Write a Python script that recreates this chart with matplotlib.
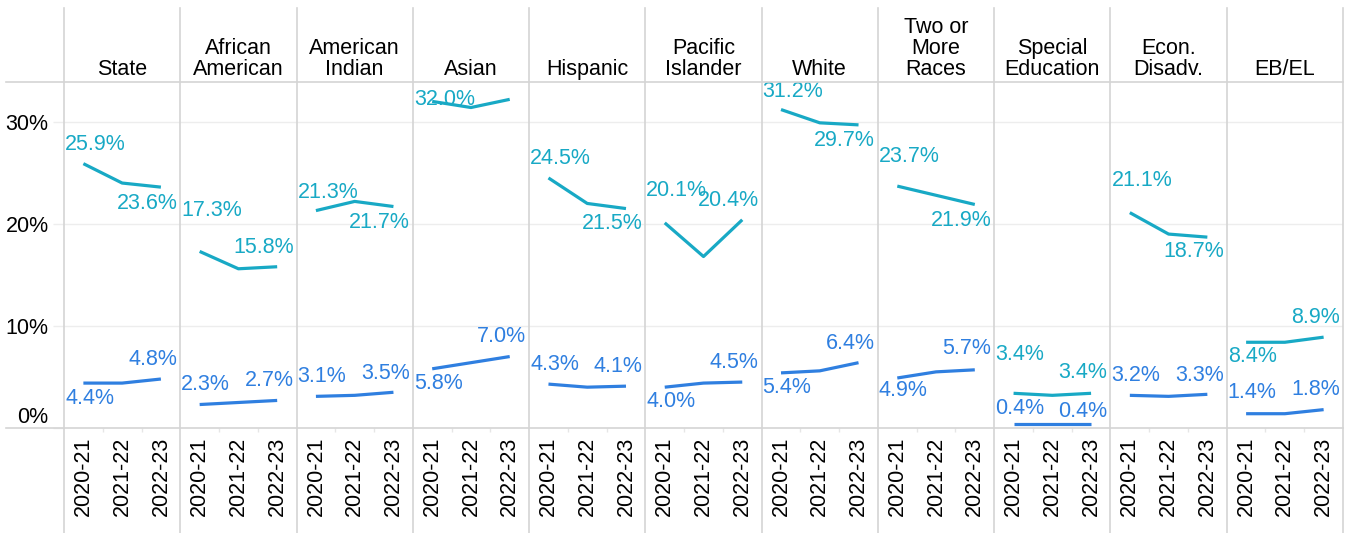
import matplotlib.pyplot as plt
from matplotlib.lines import Line2D

plt.rcParams['font.family'] = ['Liberation Sans', 'DejaVu Sans']

groups = ['State', 'African\nAmerican', 'American\nIndian', 'Asian', 'Hispanic',
          'Pacific\nIslander', 'White', 'Two or\nMore\nRaces', 'Special\nEducation',
          'Econ.\nDisadv.', 'EB/EL']
years = ['2020-21', '2021-22', '2022-23']

# percent values per group, one list per school year
teal_rate = [
    [25.9, 24.0, 23.6],
    [17.3, 15.6, 15.8],
    [21.3, 22.2, 21.7],
    [32.0, 31.4, 32.2],
    [24.5, 22.0, 21.5],
    [20.1, 16.8, 20.4],
    [31.2, 29.9, 29.7],
    [23.7, 22.8, 21.9],
    [3.4, 3.2, 3.4],
    [21.1, 19.0, 18.7],
    [8.4, 8.4, 8.9],
]
blue_rate = [
    [4.4, 4.4, 4.8],
    [2.3, 2.5, 2.7],
    [3.1, 3.2, 3.5],
    [5.8, 6.4, 7.0],
    [4.3, 4.0, 4.1],
    [4.0, 4.4, 4.5],
    [5.4, 5.6, 6.4],
    [4.9, 5.5, 5.7],
    [0.4, 0.4, 0.4],
    [3.2, 3.1, 3.3],
    [1.4, 1.4, 1.8],
]

# label nudges in pixels (positive = above the point) for first / last point
teal_dy = [(19, -16), (41, 19), (18, -16), (2, None), (19, -15), (32, 19),
           (18, -16), (30, -16), (39, 21), (32, -14), (-14, 20)]
blue_dy = [(-15, 20), (20, 20), (20, 19), (-15, 20), (20, 20), (-14, 20),
           (-15, 19), (-13, 21), (15, 12), (20, 19), (21, 20)]

TEAL = '#18a9c5'
BLUE = '#2f7fe0'
SEP = '#d4d4d4'
GRID = '#ededed'
FS = 15.5

W, H = 1348, 533
left_px, right_px = 64, 1343
top_px, base_px = 82, 428

fig = plt.figure(figsize=(W / 100, H / 100), dpi=100)
axes = fig.subplots(1, len(groups), gridspec_kw=dict(
    left=left_px / W, right=right_px / W, bottom=1 - base_px / H, top=1 - top_px / H, wspace=0))

labels = []
x = list(range(len(years)))
for i, ax in enumerate(axes):
    ax.set_xlim(-0.5, 2.5)
    ax.set_ylim(0, 33.9)
    for s in ax.spines.values():
        s.set_visible(False)
    for g in (10, 20, 30):
        ax.axhline(g, color=GRID, lw=1, zorder=0)

    for vals, dys, col in ((teal_rate[i], teal_dy[i], TEAL), (blue_rate[i], blue_dy[i], BLUE)):
        ax.plot(x, vals, color=col, lw=2.3, solid_capstyle='butt', zorder=3)
        for k, dy in zip((0, 2), dys):
            if dy is None:
                continue
            t = ax.annotate(f'{vals[k]:.1f}%', (x[k], vals[k]), xytext=(0, dy),
                            textcoords='offset pixels', ha='center', va='center',
                            color=col, fontsize=FS, zorder=4)
            labels.append((t, ax))

    ax.set_xticks(x, years, rotation=90, fontsize=FS)
    ax.set_xticks([0.5, 1.5], minor=True)
    ax.tick_params(axis='x', which='major', length=0, pad=6)
    ax.tick_params(axis='x', which='minor', length=3, color='#e6e6e6', width=1)

    if i == 0:
        ax.set_yticks([0, 10, 20, 30], ['0%', '10%', '20%', '30%'], fontsize=FS)
        ax.tick_params(axis='y', length=8, color=GRID, width=1, pad=3)
        ax.yaxis.get_major_ticks()[0].label1.set_va('bottom')
    else:
        ax.set_yticks([])

    cx = (left_px + (i + 0.5) * (right_px - left_px) / len(groups)) / W
    fig.text(cx, 1 - 80 / H, groups[i], ha='center', va='bottom', fontsize=FS,
             linespacing=1.0, color='black')

# pane separators and header / axis rules
for i in range(len(groups) + 1):
    xp = (left_px + i * (right_px - left_px) / len(groups)) / W
    fig.add_artist(Line2D([xp, xp], [0, 1 - 8 / H], color=SEP, lw=1.2))
for yp in (top_px, base_px):
    fig.add_artist(Line2D([6 / W, right_px / W], [1 - yp / H, 1 - yp / H], color=SEP, lw=1.2))

# keep value labels inside their pane
fig.canvas.draw()
renderer = fig.canvas.get_renderer()
for t, ax in labels:
    box = t.get_window_extent(renderer)
    pane = ax.get_window_extent(renderer)
    dx, dy = t.xyann
    if box.x0 < pane.x0 + 1:
        dx += pane.x0 + 1 - box.x0
    elif box.x1 > pane.x1 - 3:
        dx -= box.x1 - (pane.x1 - 3)
    t.xyann = (dx, dy)

fig.savefig('out.png', dpi=100)
